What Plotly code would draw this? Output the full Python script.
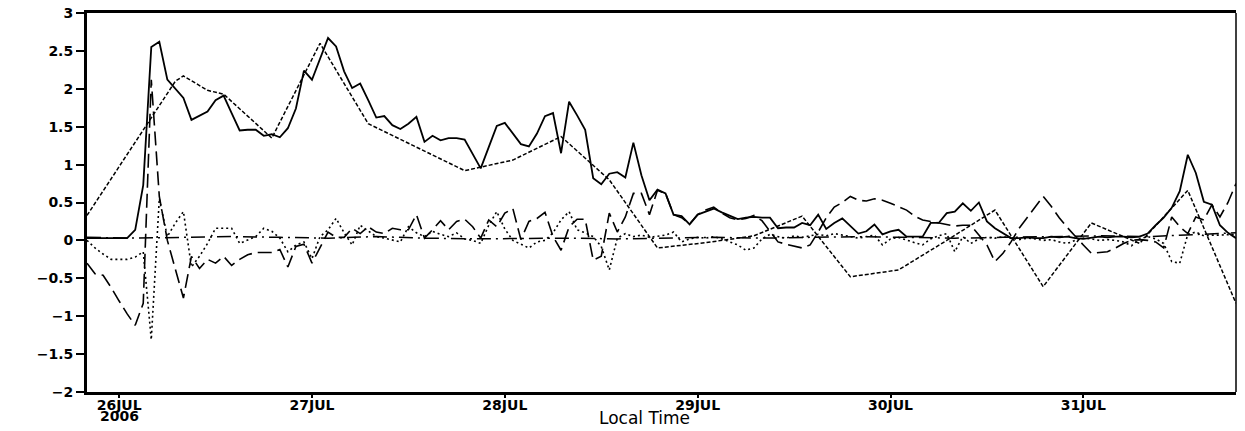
import pandas as pd
import plotly.graph_objects as go

# hourly series start 2006-07-25 20:00 local time
start = "2006-07-25 20:00"
hours = pd.date_range(start, periods=144, freq="h")

obs_solid = [0.03, 0.03, 0.03, 0.03, 0.03, 0.03, 0.14, 0.73, 2.55, 2.62,
             2.12, 2.00, 1.88, 1.59, 1.65, 1.70, 1.85, 1.91, 1.68, 1.45,
             1.46, 1.46, 1.38, 1.40, 1.36, 1.48, 1.74, 2.24, 2.12, 2.40,
             2.67, 2.56, 2.23, 2.01, 2.07, 1.85, 1.62, 1.64, 1.52, 1.47,
             1.54, 1.63, 1.30, 1.38, 1.32, 1.35, 1.35, 1.33, 1.14, 0.95,
             1.23, 1.51, 1.55, 1.41, 1.27, 1.24, 1.41, 1.64, 1.68, 1.15,
             1.83, 1.65, 1.46, 0.82, 0.74, 0.88, 0.90, 0.83, 1.29, 0.86,
             0.53, 0.67, 0.62, 0.34, 0.32, 0.21, 0.34, 0.38, 0.42, 0.37,
             0.32, 0.28, 0.30, 0.31, 0.30, 0.30, 0.16, 0.17, 0.17, 0.23,
             0.20, 0.34, 0.15, 0.23, 0.29, 0.19, 0.09, 0.12, 0.21, 0.08,
             0.12, 0.14, 0.05, 0.05, 0.05, 0.23, 0.23, 0.36, 0.38, 0.49,
             0.39, 0.50, 0.25, 0.16, 0.10, 0.03, 0.03, 0.04, 0.03, 0.03,
             0.05, 0.04, 0.05, 0.03, 0.02, 0.04, 0.05, 0.04, 0.05, 0.05,
             0.04, 0.05, 0.09, 0.20, 0.30, 0.43, 0.65, 1.13, 0.89, 0.51,
             0.47, 0.20, 0.10, 0.03]

longdash_vals = [-0.30, -0.44, -0.46, -0.62, -0.80, -0.97, -1.12, -0.83, 2.12, 0.58,
                 0.00, -0.39, -0.76, -0.21, -0.37, -0.25, -0.30, -0.21, -0.33, -0.25,
                 -0.19, -0.16, -0.16, -0.16, -0.12, -0.35, -0.08, -0.05, -0.30, -0.10,
                 0.11, 0.04, 0.04, 0.16, 0.09, 0.18, 0.11, 0.09, 0.16, 0.14,
                 0.14, 0.34, 0.03, 0.14, 0.26, 0.14, 0.25, 0.28, 0.18, 0.03,
                 0.27, 0.18, 0.36, 0.42, 0.01, 0.25, 0.29, 0.37, 0.05, -0.13,
                 0.18, 0.28, 0.28, -0.26, -0.21, 0.36, 0.11, 0.31, 0.62, 0.62,
                 0.34, 0.66, 0.62, 0.34, 0.30, 0.22, 0.34, 0.40, 0.44, 0.36,
                 0.30, 0.27, 0.29, 0.33, 0.26, 0.12, -0.02, -0.05, -0.08, -0.10,
                 -0.06, 0.11, 0.30, 0.44, 0.50, 0.58, 0.53, 0.52, 0.55, 0.53,
                 0.49, 0.45, 0.40, 0.32, 0.27, 0.25, 0.23, 0.20, 0.19, 0.20,
                 0.20, 0.07, -0.06, -0.28, -0.17, -0.02, 0.16, 0.30, 0.44, 0.58,
                 0.45, 0.30, 0.17, 0.05, -0.06, -0.17, -0.16, -0.15, -0.10, -0.04,
                 0.00, 0.01, 0.00, -0.02, -0.10, 0.31, 0.18, 0.09, 0.31, 0.27,
                 0.47, 0.31, 0.50, 0.75]

dotted_vals = [0.00, -0.10, -0.18, -0.25, -0.25, -0.25, -0.22, -0.15, -1.31, 0.55,
               0.05, 0.23, 0.38, -0.35, -0.21, -0.04, 0.16, 0.16, 0.16, -0.04,
               0.00, 0.05, 0.16, 0.12, 0.03, -0.15, -0.06, -0.02, -0.24, 0.05,
               0.14, 0.29, 0.10, -0.06, 0.20, 0.12, 0.05, 0.03, 0.00, -0.02,
               0.18, 0.10, 0.05, 0.12, 0.08, 0.05, 0.10, 0.02, 0.00, -0.04,
               0.20, 0.38, 0.15, 0.00, -0.05, -0.10, -0.02, 0.00, 0.10, 0.27,
               0.38, 0.14, 0.10, 0.05, -0.08, -0.39, 0.03, 0.09, 0.05, 0.07,
               0.04, 0.06, 0.07, 0.11, -0.02, 0.02, 0.04, 0.03, 0.05, 0.02,
               -0.02, -0.06, -0.13, -0.10, 0.02, 0.08, 0.05, 0.03, 0.06, 0.04,
               0.06, 0.08, 0.06, 0.09, 0.07, 0.05, 0.03, 0.05, 0.07, -0.06,
               0.02, 0.04, 0.00, -0.03, -0.06, 0.02, 0.06, 0.09, -0.15, 0.05,
               -0.04, 0.02, 0.04, 0.03, 0.05, 0.03, 0.01, 0.03, 0.02, 0.00,
               0.01, -0.02, -0.04, 0.00, 0.03, 0.02, 0.00, 0.01, 0.00, -0.02,
               -0.07, 0.02, 0.05, 0.02, -0.04, -0.28, -0.30, 0.08, 0.11, 0.06,
               0.07, 0.07, 0.08, 0.08]

# 6-hourly smooth series (short dash)
model_times = ["2006-07-25 20:00", "2006-07-26 07:00", "2006-07-26 08:00", "2006-07-26 11:00",
               "2006-07-26 13:00", "2006-07-26 19:00", "2006-07-27 01:00", "2006-07-27 07:00",
               "2006-07-27 19:00", "2006-07-28 01:00", "2006-07-28 07:00", "2006-07-28 13:00",
               "2006-07-28 19:00", "2006-07-29 01:00", "2006-07-29 07:00", "2006-07-29 13:00",
               "2006-07-29 19:00", "2006-07-30 01:00", "2006-07-30 07:00", "2006-07-30 13:00",
               "2006-07-30 19:00", "2006-07-31 01:00", "2006-07-31 07:00", "2006-07-31 13:00",
               "2006-07-31 19:00"]
model_vals = [0.33, 2.10, 2.17, 1.98, 1.93, 1.35, 2.60, 1.54, 0.92, 1.06, 1.37, 0.80,
              -0.10, -0.03, 0.06, 0.32, -0.48, -0.39, 0.00, 0.40, -0.61, 0.23, -0.04,
              0.66, -0.83]

# near-zero series (long dash-dot)
base_times = ["2006-07-25 20:00", "2006-07-26 02:00", "2006-07-26 08:00", "2006-07-26 14:00",
              "2006-07-26 20:00", "2006-07-27 02:00", "2006-07-27 08:00", "2006-07-27 14:00",
              "2006-07-27 20:00", "2006-07-28 02:00", "2006-07-28 08:00", "2006-07-28 14:00",
              "2006-07-28 20:00", "2006-07-29 02:00", "2006-07-29 08:00", "2006-07-29 14:00",
              "2006-07-29 20:00", "2006-07-30 02:00", "2006-07-30 08:00", "2006-07-30 14:00",
              "2006-07-30 20:00", "2006-07-31 02:00", "2006-07-31 08:00", "2006-07-31 14:00",
              "2006-07-31 19:00"]
base_vals = [0.04, 0.03, 0.04, 0.05, 0.04, 0.03, 0.05, 0.03, 0.02, 0.03, 0.03, 0.02,
             0.03, 0.04, 0.03, 0.04, 0.05, 0.04, 0.03, 0.04, 0.05, 0.06, 0.05, 0.08, 0.10]

tick_dates = ["2006-07-26", "2006-07-27", "2006-07-28", "2006-07-29", "2006-07-30", "2006-07-31"]
tick_text = ["26JUL", "27JUL", "28JUL", "29JUL", "30JUL", "31JUL"]
year_label = "2006"
y_ticks = [-2, -1.5, -1, -0.5, 0, 0.5, 1, 1.5, 2, 2.5, 3]

fig = go.Figure()
fig.add_trace(go.Scatter(x=base_times, y=base_vals, mode="lines",
                         line=dict(color="black", width=1.5, dash="14px,5px,2px,5px")))
fig.add_trace(go.Scatter(x=hours, y=dotted_vals, mode="lines",
                         line=dict(color="black", width=1.6, dash="2px,3px")))
fig.add_trace(go.Scatter(x=hours, y=longdash_vals, mode="lines",
                         line=dict(color="black", width=1.6, dash="14px,6px")))
fig.add_trace(go.Scatter(x=model_times, y=model_vals, mode="lines",
                         line=dict(color="black", width=1.5, dash="4px,2px")))
fig.add_trace(go.Scatter(x=hours, y=obs_solid, mode="lines",
                         line=dict(color="black", width=1.8)))

tick_font = dict(family="DejaVu Sans", size=14, color="black", weight="bold")

fig.update_layout(
    width=1229, height=423,
    margin=dict(l=79, r=1, t=5, b=39),
    paper_bgcolor="white", plot_bgcolor="white",
    showlegend=False,
    xaxis=dict(
        type="date", automargin=False,
        range=["2006-07-25 20:00", "2006-07-31 19:00"],
        tickvals=tick_dates, ticktext=tick_text,
        ticks="outside", ticklen=3, tickwidth=2, tickcolor="black",
        ticklabelstandoff=-5, ticklabeloverflow="allow",
        showline=True, linewidth=3, linecolor="black", mirror=True,
        showgrid=False, zeroline=False, tickfont=tick_font,
    ),
    yaxis=dict(
        range=[-2, 3], tickvals=y_ticks, automargin=False,
        ticks="outside", ticklen=8, tickwidth=2, tickcolor="black",
        ticklabelstandoff=0, ticklabeloverflow="allow",
        showline=True, linewidth=3, linecolor="black",
        showgrid=False, zeroline=False, tickfont=tick_font,
    ),
    shapes=[dict(type="line", xref="paper", yref="paper", x0=1, x1=1, y0=0, y1=1,
                 line=dict(color="black", width=1.5))],
    annotations=[
        dict(text=year_label, x=tick_dates[0], xref="x", yref="paper", y=-0.038,
             xanchor="center", yanchor="top", showarrow=False, font=tick_font),
        dict(text="Local Time", xref="paper", yref="paper", x=0.485, y=-0.0686,
             xanchor="center", yanchor="middle", showarrow=False,
             font=dict(family="DejaVu Sans", size=17, color="black")),
    ],
)

fig.write_html("out.html")
